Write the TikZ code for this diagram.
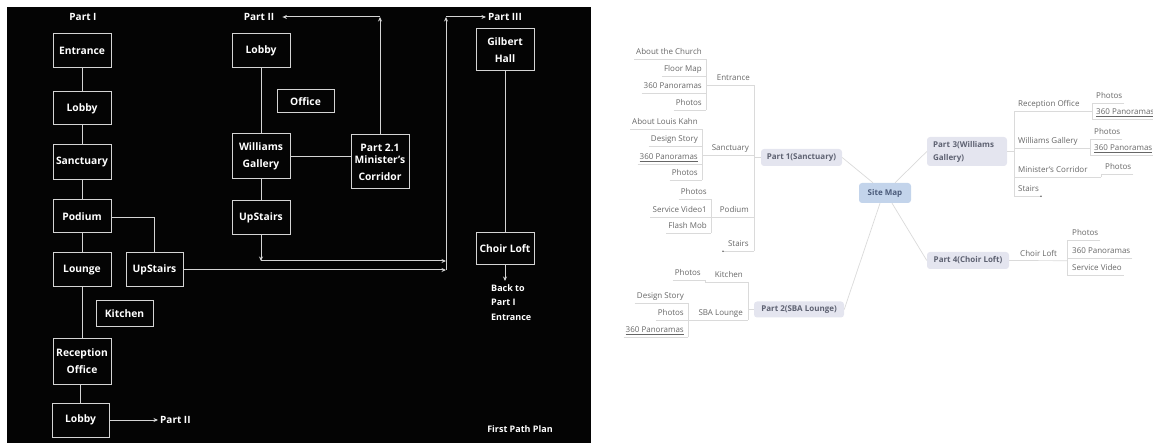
\documentclass[tikz,border=0pt]{standalone}
\usepackage{fontspec}
\setmainfont{Open Sans}
\usetikzlibrary{arrows.meta}
\definecolor{panel}{HTML}{040404}
\definecolor{boxline}{HTML}{D4D4D4}
\definecolor{mmtext}{HTML}{666666}
\definecolor{mmline}{HTML}{DADADA}
\definecolor{topicfill}{HTML}{E4E5EF}
\definecolor{topictext}{HTML}{5E6272}
\definecolor{smfill}{HTML}{C3D4EB}
\definecolor{smtext}{HTML}{4B5B7A}
\newcommand\lfL[5]{\node[leaf,anchor=east] (#1) at (#2,#3) {#4};\draw[mm] (#1.south west) -- (#1.south west -| #5);}
\newcommand\lfR[5]{\node[leaf,anchor=west] (#1) at (#2,#3) {#4};\draw[mm] (#1.south east) -- (#1.south east -| #5);}
\begin{document}
\begin{tikzpicture}[x=1pt,y=-1pt,
  box/.style={draw=boxline, line width=1pt, text=white, font=\bfseries\fontsize{10.3}{17}\selectfont, align=center, inner sep=0pt},
  lbl/.style={text=white, font=\bfseries\fontsize{10}{12}\selectfont, inner sep=2pt},
  lbl2/.style={text=white, font=\bfseries\fontsize{9}{14.5}\selectfont, inner sep=2pt},
  ln/.style={draw=boxline, line width=1pt},
  arr/.style={-{Stealth[length=4.5pt,width=4pt]}},
  leaf/.style={text=mmtext, font=\fontsize{8}{10}\selectfont, inner xsep=2pt, inner ysep=2pt, text height=6pt, text depth=2pt},
  mm/.style={draw=mmline, line width=0.7pt},
  topic/.style={fill=topicfill, rounded corners=3pt, text=topictext, font=\bfseries\fontsize{8}{13}\selectfont, inner sep=0pt},
  ]
\useasboundingbox (0,0) rectangle (1153,443);
% ---------------- left panel ----------------
\fill[panel] (7,7) rectangle (591,443);
\node[box, minimum width=58pt, minimum height=34pt] (ent) at (82,51) {Entrance};
\node[box, minimum width=58pt, minimum height=33pt] (lob1) at (82,108.5) {Lobby};
\node[box, minimum width=58pt, minimum height=35pt] (sanc) at (82,162.5) {Sanctuary};
\node[box, minimum width=58pt, minimum height=33pt] (pod) at (82,216.5) {Podium};
\node[box, minimum width=58pt, minimum height=34pt] (lou) at (82,270) {Lounge};
\node[box, minimum width=57pt, minimum height=34pt] (up1) at (154.5,270) {UpStairs};
\node[box, minimum width=57pt, minimum height=26pt] (kit) at (124.5,314) {Kitchen};
\node[box, minimum width=58pt, minimum height=46pt] (rec) at (82,361) {Reception\\Office};
\node[box, minimum width=57pt, minimum height=34pt] (lob2) at (80.5,420) {Lobby};
\node[box, minimum width=58pt, minimum height=34pt] (lobII) at (261,51) {Lobby};
\node[box, minimum width=57pt, minimum height=23pt] (off) at (305.5,101.5) {Office};
\node[box, minimum width=58pt, minimum height=45pt] (wg) at (261,156.5) {Williams\\Gallery};
\node[box, minimum width=58pt, minimum height=54pt] (mc) at (380,162) {Part 2.1\\[-5pt]Minister's\\Corridor};
\node[box, minimum width=58pt, minimum height=34pt] (up2) at (261,218) {UpStairs};
\node[box, minimum width=58pt, minimum height=42pt] (gh) at (505,50) {Gilbert\\Hall};
\node[box, minimum width=58pt, minimum height=32pt] (cl) at (505,249) {Choir Loft};
\node[lbl] (pI) at (83,17) {Part I};
\node[lbl, anchor=west] (pIIa) at (158,420) {Part II};
\node[lbl] (pII) at (259,17) {Part II};
\node[lbl] (pIII) at (505,17) {Part III};
\node[lbl2, anchor=north west, align=left] (back) at (489,282) {Back to\\Part I\\Entrance};
\node[lbl2] (fpp) at (520,429) {First Path Plan};
\coordinate (j1) at (380,17);
\coordinate (j2) at (261,261);
\coordinate (j3) at (446,261);
\coordinate (j4) at (446,270);
\coordinate (j5) at (446,17);
\coordinate (j6) at (505,281);
\draw[ln] (ent) -- (lob1);
\draw[ln] (lob1) -- (sanc);
\draw[ln] (sanc) -- (pod);
\draw[ln] (pod) -- (lou);
\draw[ln] (lou) -- (rec);
\draw[ln] (rec.south -| lob2.north) -- (lob2.north);
\draw[ln] ([yshift=-1.5pt]pod.east) -| (up1.north);
\draw[ln,arr] (lob2.east) -- (pIIa.west);
\draw[ln] (lobII) -- (wg);
\draw[ln] (wg) -- (up2);
\draw[ln] (wg.east) -- (wg.east -| mc.west);
\draw[ln,arr] (mc.north) -- (j1);
\draw[ln,arr] (j1) -- ([xshift=6pt]pII.east);
\draw[ln,arr] (up2.south) -- (j2);
\draw[ln,arr] (j2) -- (j3);
\draw[ln,arr] (up1.east) -- (j4);
\draw[ln,arr] (j4) -- (j5);
\draw[ln,arr] (j5) -- (pIII.west);
\draw[ln] (gh) -- (cl);
\draw[ln,arr] (cl.south) -- (j6);
% ---------------- mind map ----------------
\coordinate (s1) at (754,0);
\coordinate (sE) at (706,0);
\coordinate (sS) at (702,0);
\coordinate (sP) at (711,0);
\coordinate (s2) at (748,0);
\coordinate (sK) at (705,0);
\coordinate (sL) at (688,0);
\coordinate (s3) at (1014,0);
\coordinate (sR) at (1092,0);
\coordinate (sW) at (1090,0);
\coordinate (sM) at (1101,0);
\coordinate (sC) at (1067,0);
\coordinate (sSt) at (723,0);
\coordinate (sSt3) at (1041,0);
% topics
\node[topic, fill=smfill, text=smtext, minimum width=52pt, minimum height=20pt] (tSM) at (885,193) {Site Map};
\node[topic, minimum width=81pt, minimum height=17pt] (tP1) at (801.5,157.5) {Part 1(Sanctuary)};
\node[topic, minimum width=90pt, minimum height=16pt] (tP2) at (799,309.5) {Part 2(SBA Lounge)};
\node[topic, minimum width=80pt, minimum height=29pt, align=left, text width=68pt] (tP3) at (967,151.5) {Part 3(Williams\\Gallery)};
\node[topic, minimum width=82pt, minimum height=17pt] (tP4) at (968,260.5) {Part 4(Choir Loft)};
\draw[mm] ([xshift=-12pt]tSM.north) -- (tP1.east);
\draw[mm] ([xshift=10pt]tSM.north) -- (tP3.west);
\draw[mm] ([xshift=7pt]tSM.south) -- (tP4.west);
\draw[mm] ([xshift=-5pt]tSM.south) -- (tP2.east);
% Part 1
\lfL{e1}{704}{53}{About the Church}{sE}
\lfL{e2}{704}{70}{Floor Map}{sE}
\lfL{e3}{704}{87}{360 Panoramas}{sE}
\lfL{e4}{704}{104}{Photos}{sE}
\node[leaf,anchor=east] (mEnt) at (752,79) {Entrance};
\draw[mm] (mEnt.south -| sE) -- (mEnt.south -| s1);
\draw[mm] (e1.south west -| sE) -- (e4.south west -| sE);
\lfL{a1}{700}{123}{About Louis Kahn}{sS}
\lfL{a2}{700}{140}{Design Story}{sS}
\lfL{a3}{700}{158}{\underline{360 Panoramas}}{sS}
\lfL{a4}{700}{174}{Photos}{sS}
\node[leaf,anchor=east] (mSan) at (751,149) {Sanctuary};
\draw[mm] (mSan.south -| sS) -- (mSan.south -| s1);
\draw[mm] (a1.south west -| sS) -- (a4.south west -| sS);
\lfL{p1a}{709}{193}{Photos}{sP}
\lfL{p1b}{709}{211}{Service Video1}{sP}
\lfL{p1c}{709}{227}{Flash Mob}{sP}
\node[leaf,anchor=east] (mPod) at (751,211) {Podium};
\draw[mm] (mPod.south -| sP) -- (mPod.south -| s1);
\draw[mm] (p1a.south west -| sP) -- (p1c.south west -| sP);
\node[leaf,anchor=east] (mSt) at (751,245) {Stairs};
\draw[mm] (mSt.south -| sSt) -- (mSt.south -| s1);
\fill[mmtext] (mSt.south -| sSt) circle (0.9pt);
\draw[mm] (mEnt.south -| s1) -- (mSt.south -| s1);
\draw[mm] (tP1.west) -- (tP1.west -| s1);
% Part 2
\lfL{k1}{703}{274}{Photos}{sK}
\node[leaf,anchor=east] (mKit) at (745,276) {Kitchen};
\draw[mm] (mKit.south -| sK) -- (mKit.south -| s2);
\draw[mm] (k1.south west -| sK) -- (mKit.south -| sK);
\lfL{l1}{686}{297}{Design Story}{sL}
\lfL{l2}{686}{314}{Photos}{sL}
\lfL{l3}{686}{331}{\underline{360 Panoramas}}{sL}
\node[leaf,anchor=east] (mSBA) at (745,314) {SBA Lounge};
\draw[mm] (mSBA.south -| sL) -- (mSBA.south -| s2);
\draw[mm] (l1.south west -| sL) -- (l3.south west -| sL);
\draw[mm] (mKit.south -| s2) -- (mSBA.south -| s2);
\draw[mm] (tP2.west) -- (tP2.west -| s2);
% Part 3
\lfR{r1}{1094}{97}{Photos}{sR}
\lfR{r2}{1094}{113}{\underline{360 Panoramas}}{sR}
\node[leaf,anchor=west] (mRec) at (1016,105) {Reception Office};
\draw[mm] (mRec.south -| s3) -- (mRec.south -| sR);
\draw[mm] (r1.south east -| sR) -- (r2.south east -| sR);
\lfR{w1}{1092}{133}{Photos}{sW}
\lfR{w2}{1092}{149}{\underline{360 Panoramas}}{sW}
\node[leaf,anchor=west] (mWG) at (1016,142) {Williams Gallery};
\draw[mm] (mWG.south -| s3) -- (mWG.south -| sW);
\draw[mm] (w1.south east -| sW) -- (w2.south east -| sW);
\lfR{m1}{1103}{168}{Photos}{sM}
\node[leaf,anchor=west] (mMC) at (1016,171) {Minister's Corridor};
\draw[mm] (mMC.south -| s3) -- (mMC.south -| sM);
\draw[mm] (m1.south east -| sM) -- (mMC.south -| sM);
\node[leaf,anchor=west] (mSt3) at (1016,190) {Stairs};
\draw[mm] (mSt3.south -| s3) -- (mSt3.south -| sSt3);
\fill[mmtext] (mSt3.south -| sSt3) circle (0.9pt);
\draw[mm] (mRec.south -| s3) -- (mSt3.south -| s3);
\draw[mm] (tP3.east) -- (tP3.east -| s3);
% Part 4
\lfR{q1}{1070}{234}{Photos}{sC}
\lfR{q2}{1070}{252}{360 Panoramas}{sC}
\lfR{q3}{1070}{269}{Service Video}{sC}
\node[leaf,anchor=west] (mCL) at (1018,254.5) {Choir Loft};
\draw[mm] (tP4.east) -- (mCL.south -| sC);
\draw[mm] (q1.south east -| sC) -- (q3.south east -| sC);
\end{tikzpicture}
\end{document}
